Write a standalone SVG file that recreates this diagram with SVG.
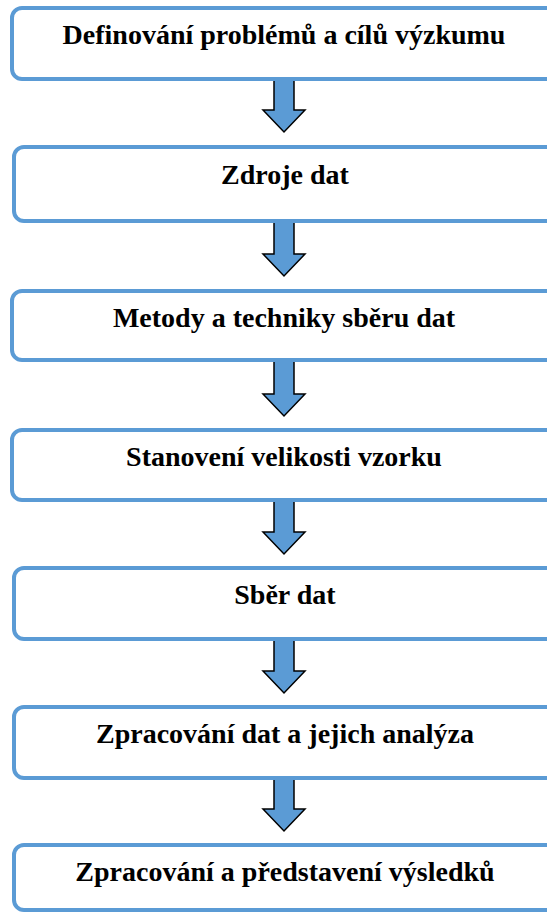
<svg xmlns="http://www.w3.org/2000/svg" width="547" height="913" viewBox="0 0 547 913">
<style>
.box{fill:#fff;stroke:#5B9BD5;stroke-width:4}
.lbl{font-family:"Liberation Serif","Times New Roman",serif;font-weight:bold;font-size:28px;fill:#000;text-anchor:middle}
.arr{fill:#5B9BD5;stroke:#000;stroke-width:1.5;stroke-linejoin:miter}
</style>
<rect width="547" height="913" fill="#fff"/>
<g id="connectors">
<path class="arr" d="M274,77 H294 V110 H305 L284,132 L263,110 H274 Z"/>
<path class="arr" d="M274,219 H294 V254 H305 L284,276 L263,254 H274 Z"/>
<path class="arr" d="M274,358 H294 V394 H305 L284,416 L263,394 H274 Z"/>
<path class="arr" d="M274,498 H294 V532 H305 L284,554 L263,532 H274 Z"/>
<path class="arr" d="M274,637 H294 V671 H305 L284,693 L263,671 H274 Z"/>
<path class="arr" d="M274,776 H294 V809 H305 L284,831 L263,809 H274 Z"/>
</g>
<g id="n1"><rect class="box" x="12" y="8" width="544" height="71" rx="10"/><text class="lbl" x="284" y="44">Definování problémů a cílů výzkumu</text></g>
<g id="n2"><rect class="box" x="14" y="147" width="542" height="74" rx="10"/><text class="lbl" x="285" y="184">Zdroje dat</text></g>
<g id="n3"><rect class="box" x="12" y="291" width="544" height="69" rx="10"/><text class="lbl" x="284" y="327">Metody a techniky sběru dat</text></g>
<g id="n4"><rect class="box" x="12" y="430" width="544" height="70" rx="10"/><text class="lbl" x="284" y="466">Stanovení velikosti vzorku</text></g>
<g id="n5"><rect class="box" x="14" y="568" width="542" height="71" rx="10"/><text class="lbl" x="285" y="604">Sběr dat</text></g>
<g id="n6"><rect class="box" x="14" y="707" width="542" height="71" rx="10"/><text class="lbl" x="285" y="743">Zpracování dat a jejich analýza</text></g>
<g id="n7"><rect class="box" x="14" y="845" width="542" height="65" rx="10"/><text class="lbl" x="285" y="881">Zpracování a představení výsledků</text></g>
</svg>
